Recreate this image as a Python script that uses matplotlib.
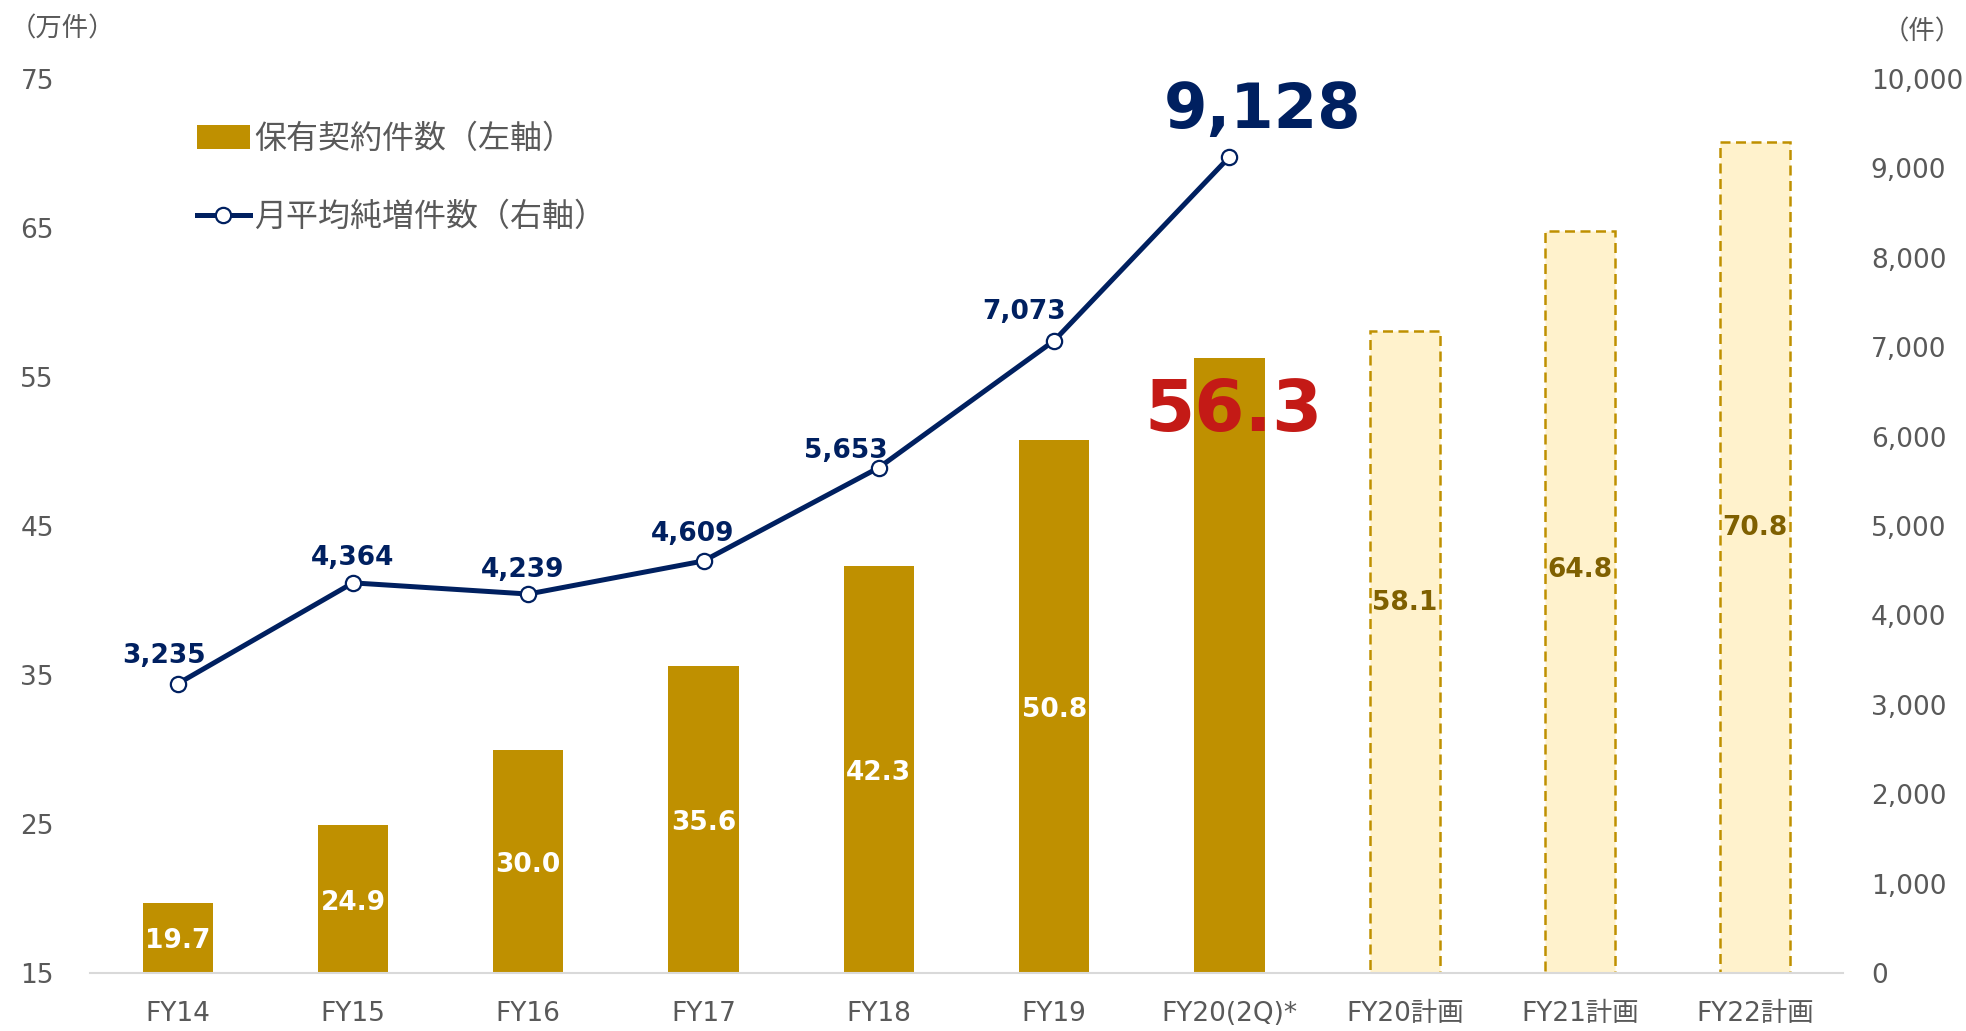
import matplotlib
matplotlib.use('Agg')
import matplotlib.pyplot as plt
from matplotlib.patches import Patch
from matplotlib.lines import Line2D

plt.rcParams['font.family'] = ['DejaVu Sans', 'Noto Sans CJK JP']

# データ
categories = ['FY14', 'FY15', 'FY16', 'FY17', 'FY18', 'FY19', 'FY20(2Q)*',
              'FY20計画', 'FY21計画', 'FY22計画']
contracts = [19.7, 24.9, 30.0, 35.6, 42.3, 50.8, 56.3, 58.1, 64.8, 70.8]   # 保有契約件数（万件）
is_plan = [False] * 7 + [True] * 3
net_increase = [3235, 4364, 4239, 4609, 5653, 7073, 9128]                # 月平均純増件数（件）

# 色
GOLD = '#BF9000'
PLAN_FILL = '#FFF2CC'
PLAN_TEXT = '#7F6000'
NAVY = '#002060'
RED = '#C41A16'
GRAY = '#595959'

# ラベル位置（レイアウト用）
line_label_offsets = [(-10, 20), (0, 18), (-4, 17), (-8, 19.5), (-24, 12), (-22, 20.5), (24, 33)]
plan_label_y = [40.0, 42.2, 45.05]

fig = plt.figure(figsize=(19.66, 10.31), dpi=100)
ax = fig.add_axes([90 / 1966, 1 - 973 / 1031, 1753 / 1966, (973 - 79) / 1031])
ax2 = ax.twinx()

x = list(range(len(categories)))
base = 15
for i, (v, plan) in enumerate(zip(contracts, is_plan)):
    if plan:
        ax.bar(i, v - base, bottom=base, width=0.4, color=PLAN_FILL,
               edgecolor=GOLD, linestyle=(0, (4, 2.2)), linewidth=1.8)
    else:
        ax.bar(i, v - base, bottom=base, width=0.4, color=GOLD, linewidth=0)

# 棒のラベル
for i, v in enumerate(contracts[:6]):
    ax.annotate(f'{v:.1f}', xy=(i, (v + base) / 2), xytext=(0, -2.5),
                textcoords='offset points', ha='center', va='center',
                color='white', fontsize=19, fontweight='bold')
ax.annotate(f'{contracts[6]:.1f}', xy=(6, contracts[6]), xytext=(3, -38.5),
            textcoords='offset points', ha='center', va='center',
            color=RED, fontsize=52, fontweight='bold', zorder=5)
for k, i in enumerate(range(7, 10)):
    ax.annotate(f'{contracts[i]:.1f}', xy=(i, plan_label_y[k]), xytext=(0, -2),
                textcoords='offset points', ha='center', va='center',
                color=PLAN_TEXT, fontsize=19, fontweight='bold')

# 折れ線
lx = x[:len(net_increase)]
ax2.plot(lx, net_increase, color=NAVY, linewidth=3.6, marker='o', markersize=11,
         markerfacecolor='white', markeredgecolor=NAVY, markeredgewidth=1.6, zorder=4)
for i, (v, off) in enumerate(zip(net_increase, line_label_offsets)):
    big = i == len(net_increase) - 1
    ax2.annotate(f'{v:,}', xy=(i, v), xytext=off, textcoords='offset points',
                 ha='center', va='center', color=NAVY,
                 fontsize=45 if big else 19, fontweight='bold')

# 軸
ax.set_xlim(-0.5, 9.5)
ax.set_ylim(15, 75)
ax.set_yticks(range(15, 76, 10))
ax2.set_ylim(0, 10000)
ax2.set_yticks(range(0, 10001, 1000))
ax2.set_yticklabels([f'{t:,}' for t in range(0, 10001, 1000)])
ax.set_xticks(x)
ax.set_xticklabels(categories)

for a in (ax, ax2):
    for s in ('top', 'left', 'right', 'bottom'):
        a.spines[s].set_visible(False)
ax.spines['bottom'].set_visible(True)
ax.spines['bottom'].set_color('#D9D9D9')
ax.spines['bottom'].set_linewidth(1.5)

ax.tick_params(axis='y', length=0, pad=26, labelsize=19, labelcolor=GRAY)
ax2.tick_params(axis='y', length=0, pad=20, labelsize=19, labelcolor=GRAY)
ax.tick_params(axis='x', length=0, pad=20, labelsize=19, labelcolor=GRAY)

fig.text(10 / 1966, 1 - 29 / 1031, '（万件）', ha='left', va='center', fontsize=19,
         color=GRAY, family='Noto Sans CJK JP')
fig.text(1962 / 1966, 1 - 32 / 1031, '（件）', ha='right', va='center', fontsize=19,
         color=GRAY, family='Noto Sans CJK JP')

# 凡例
handles = [Patch(facecolor=GOLD, edgecolor='none'),
           Line2D([0], [0], color=NAVY, linewidth=3.6, marker='o', markersize=11,
                  markerfacecolor='white', markeredgecolor=NAVY, markeredgewidth=1.6)]
labels = ['保有契約件数（左軸）', '月平均純増件数（右軸）']
leg = ax2.legend(handles, labels, loc='upper left', bbox_to_anchor=(197 / 1966, 1 - 123 / 1031),
                 bbox_transform=fig.transFigure, frameon=False,
                 prop={'family': 'Noto Sans CJK JP', 'size': 23},
                 handlelength=1.65, handleheight=0.75, handletextpad=0.15,
                 labelspacing=1.45, borderpad=0, borderaxespad=0)
for t in leg.get_texts():
    t.set_color(GRAY)

fig.savefig('out.png', dpi=100)
